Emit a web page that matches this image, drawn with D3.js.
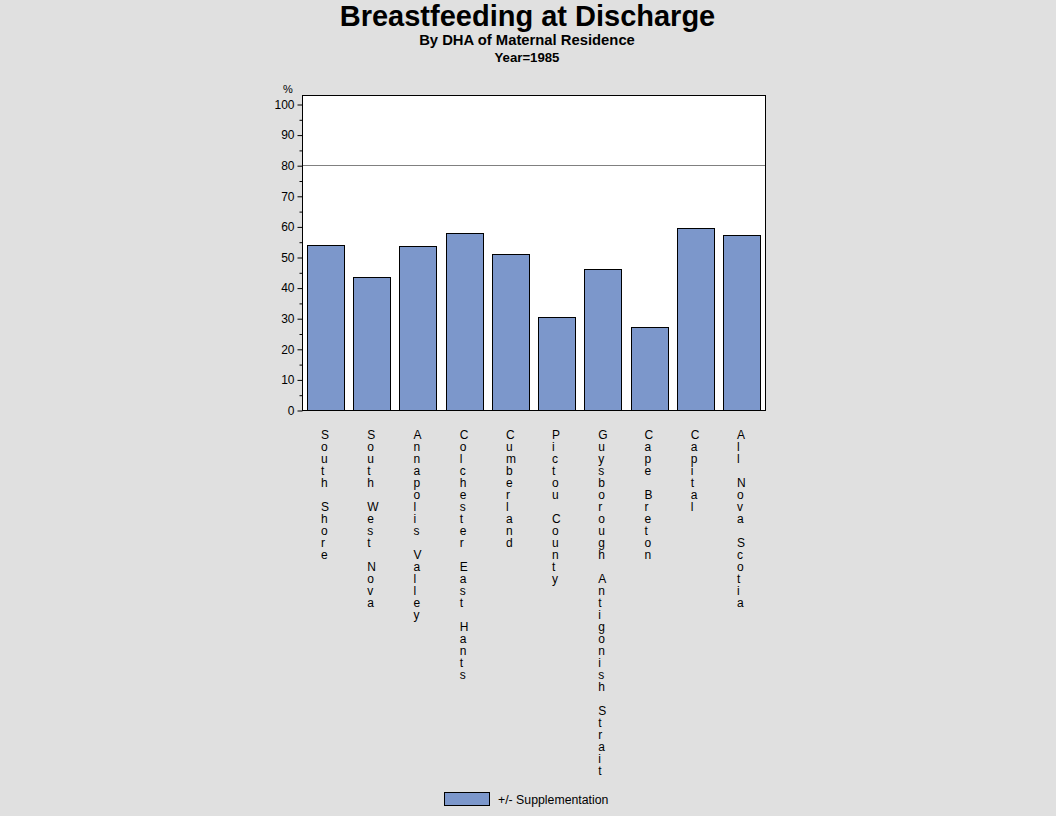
<!DOCTYPE html>
<html><head><meta charset="utf-8">
<script src="https://cdn.jsdelivr.net/npm/d3@7"></script>
<style>
html,body{margin:0;padding:0;background:#e0e0e0;}
svg{display:block;font-family:Arial,"Liberation Sans",Helvetica,sans-serif;}
</style></head>
<body>
<svg id="chart" width="1056" height="816"></svg>
<script>
const categories = ["South  Shore","South  West  Nova","Annapolis  Valley","Colchester  East  Hants","Cumberland","Pictou  County","Guysborough  Antigonish  Strait","Cape  Breton","Capital","All  Nova  Scotia"];
const values = [53.8, 43.4, 53.5, 57.7, 50.9, 30.3, 46.0, 27.0, 59.4, 57.1];
const majorTicks = [0,10,20,30,40,50,60,70,80,90,100];
const minorTicks = [5,15,25,35,45,55,65,75,85,95];
const referenceValue = 80;
const seriesName = "+/- Supplementation";
const titleText = "Breastfeeding at Discharge";
const subtitleText = "By DHA of Maternal Residence";
const yearText = "Year=1985";

const svg = d3.select("#chart");
const L = 302, R = 765, T = 95, B = 410;
const x = d3.scaleBand().domain(categories).range([L, R]).paddingInner(0.2).paddingOuter(0.11);
const y = d3.scaleLinear().range([B, T]);
y.domain([0, (B - T) / ((B - 104) / 100)]);

// titles
svg.append("text").attr("x", 527.5).attr("y", 26).attr("text-anchor", "middle")
  .attr("font-size", 29).attr("font-weight", "bold").text(titleText);
svg.append("text").attr("x", 527).attr("y", 45).attr("text-anchor", "middle")
  .attr("font-size", 14.8).attr("font-weight", "bold").text(subtitleText);
svg.append("text").attr("x", 527).attr("y", 62).attr("text-anchor", "middle")
  .attr("font-size", 13.2).attr("font-weight", "bold").text(yearText);

// plot background
svg.append("rect").attr("x", L).attr("y", T).attr("width", R - L).attr("height", B - T)
  .attr("fill", "#fff");

// reference line
svg.append("line").attr("x1", L).attr("x2", R).attr("y1", Math.round(y(referenceValue)) + 0.5).attr("y2", Math.round(y(referenceValue)) + 0.5)
  .attr("stroke", "#808080").attr("stroke-width", 1);

// bars
svg.append("g").selectAll("rect").data(values).join("rect")
  .attr("x", (d, i) => Math.round(x(categories[i])) + 0.5)
  .attr("y", d => Math.round(y(d)) + 0.5)
  .attr("width", Math.round(x.bandwidth()))
  .attr("height", d => B - Math.round(y(d)))
  .attr("fill", "#7c97cb").attr("stroke", "#000").attr("stroke-width", 1);

// frame
svg.append("rect").attr("x", L + 0.5).attr("y", T + 0.5).attr("width", R - L).attr("height", B - T)
  .attr("fill", "none").attr("stroke", "#000").attr("stroke-width", 1);

// y axis
const yAxis = d3.axisLeft(y).tickValues(majorTicks).tickSize(5).tickPadding(3).tickFormat(d3.format("d"));
const gy = svg.append("g").attr("transform", `translate(${L + 0.5},0.5)`).call(yAxis);
gy.select(".domain").remove();
gy.selectAll("text").attr("font-size", 12).attr("fill", "#000").style("font-family", "Arial,'Liberation Sans',sans-serif");
gy.selectAll("line").attr("stroke", "#000");
const gym = svg.append("g").attr("transform", `translate(${L + 0.5},0.5)`)
  .call(d3.axisLeft(y).tickValues(minorTicks).tickSize(3).tickFormat(""));
gym.select(".domain").remove();
gym.selectAll("line").attr("stroke", "#000");

svg.append("text").attr("x", 288).attr("y", 93).attr("text-anchor", "middle")
  .attr("font-size", 11).text("%");

// x labels: stacked characters, left aligned
const lab = svg.append("g");
categories.forEach(c => {
  const lx = x(c) + x.bandwidth() / 2 - 4.5;
  const t = lab.append("text").attr("font-size", 12).attr("text-anchor", "start");
  const words = c.split(/\s+/);
  let line = 0;
  words.forEach((w, wi) => {
    if (wi > 0) line += 1;
    for (const ch of w) {
      t.append("tspan").attr("x", lx).attr("y", 439 + line * 12).text(ch);
      line++;
    }
  });
});

// legend
svg.append("rect").attr("x", 444.5).attr("y", 792.5).attr("width", 45).attr("height", 13)
  .attr("fill", "#7c97cb").attr("stroke", "#000");
svg.append("text").attr("x", 498).attr("y", 804).attr("font-size", 12.3).text(seriesName);
</script>
</body></html>
